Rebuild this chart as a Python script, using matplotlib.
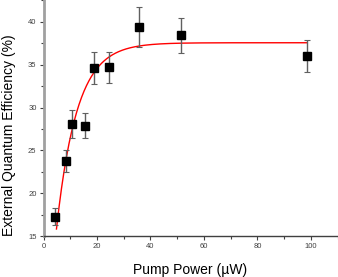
import numpy as np
import matplotlib
matplotlib.use("Agg")
import matplotlib.pyplot as plt

plt.rcParams['font.family'] = ['Liberation Sans', 'DejaVu Sans']

# measured points
power = [4.3, 8.5, 10.5, 15.5, 19.0, 24.5, 35.6, 51.4, 98.4]
eqe = [17.3, 23.8, 28.1, 27.9, 34.6, 34.7, 39.4, 38.4, 36.0]
eqe_err = [1.0, 1.3, 1.6, 1.5, 1.9, 1.8, 2.3, 2.0, 1.9]

# exponential-rise fit: y = A - B*exp(-x/t)
fit_A, fit_B, fit_t = 37.55, 40.9, 7.65
fit_range = (4.85, 98.4)

x_ticks = [0, 20, 40, 60, 80, 100]
y_ticks = [15, 20, 25, 30, 35, 40]

fig = plt.figure(figsize=(3.38, 2.77), dpi=100)
ax = fig.add_axes([0.1287, 0.1469, 0.870, 0.8531])

xf = np.linspace(fit_range[0], fit_range[1], 400)
ax.plot(xf, fit_A - fit_B * np.exp(-xf / fit_t), color='red', lw=1.0, zorder=2)

ax.errorbar(power, eqe, yerr=eqe_err, fmt='s', color='black', ms=5.2,
            ecolor='#606060', elinewidth=1.0, capsize=2.2, capthick=0.8,
            zorder=3)

ax.set_xlim(0, 110)
ax.set_ylim(15, 42.53)
ax.set_xticks(x_ticks)
ax.set_yticks(y_ticks)
ax.set_xticks([10, 30, 50, 70, 90, 110], minor=True)
ax.set_yticks([17.5, 22.5, 27.5, 32.5, 37.5, 42.5], minor=True)

ax.spines['top'].set_visible(False)
ax.spines['right'].set_visible(False)
ax.spines['left'].set_color('#a0a0a0')
ax.spines['left'].set_linewidth(2.0)
ax.spines['bottom'].set_color('#404040')
ax.spines['bottom'].set_linewidth(1.0)

ax.tick_params(which='major', direction='out', length=3, width=0.8,
               colors='#404040', labelsize=5.5, pad=2)
ax.tick_params(which='minor', direction='out', length=2, width=0.8,
               colors='#404040')

ax.set_xlabel('Pump Power (\u00b5W)', fontsize=10, labelpad=9)
ax.set_ylabel('External Quantum Efficiency (%)', fontsize=10, labelpad=8)
ax.yaxis.set_label_coords(-0.092, 0.43)

fig.savefig('out.png', dpi=100)
